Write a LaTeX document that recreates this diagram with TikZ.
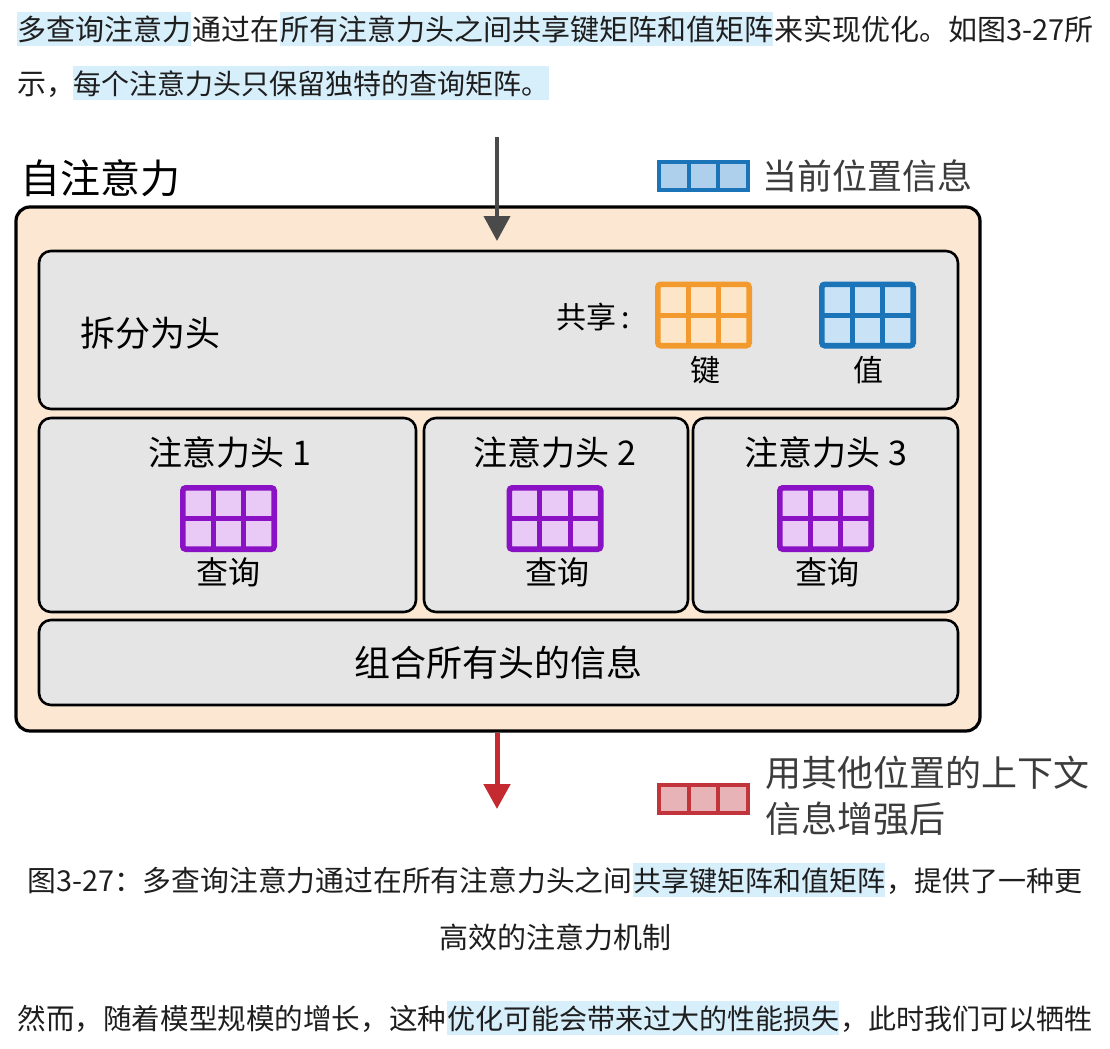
\documentclass[tikz,border=0pt]{standalone}
\usepackage{fontspec}
\setmainfont{Noto Sans CJK SC}
\usetikzlibrary{arrows.meta}
\definecolor{txt}{HTML}{1E1E1E}
\definecolor{hlc}{HTML}{D7EFFB}
\definecolor{peach}{HTML}{FCE8D2}
\definecolor{boxgray}{HTML}{E5E5E5}
\definecolor{arrgray}{HTML}{4A4A4A}
\definecolor{arrred}{HTML}{C52A30}
\definecolor{legtxt}{HTML}{3C3C3C}
\definecolor{orgB}{HTML}{F29A2E}
\definecolor{orgF}{HTML}{FDE6C8}
\definecolor{bluB}{HTML}{1B73B8}
\definecolor{bluF}{HTML}{C9E2F5}
\definecolor{purB}{HTML}{8B12C4}
\definecolor{purF}{HTML}{E9C9F6}
\definecolor{legbF}{HTML}{AED0EC}
\definecolor{redB}{HTML}{C2343B}
\definecolor{redF}{HTML}{E8B3B7}
\newcommand\myfs[1]{\fontsize{#1}{#1}\selectfont}
\newcommand\matsix[4]{%
 \begin{scope}[shift={(#1,#2)}]
 \filldraw[draw=#3, fill=#4, line width=2.8pt, rounded corners=1.5pt] (-45.7,-30.7) rectangle (45.7,30.7);
 \draw[draw=#3, line width=2.5pt] (-15.2,-30.7) -- (-15.2,30.7) (15.2,-30.7) -- (15.2,30.7) (-45.7,0) -- (45.7,0);
 \end{scope}}
\newcommand\barthree[4]{%
 \begin{scope}[shift={(#1,#2)}]
 \filldraw[draw=#3, fill=#4, line width=2pt] (-44.5,-14) rectangle (44.5,14);
 \draw[draw=#3, line width=2pt] (-14.8,-14) -- (-14.8,14) (14.8,-14) -- (14.8,14);
 \end{scope}}
\begin{document}
\begin{tikzpicture}[x=0.5pt,y=-0.5pt,
 seg/.style={anchor=base west, inner sep=0pt, font=\myfs{14.5pt}, text=txt},
 hlseg/.style={seg, fill=hlc, text height=14pt, text depth=2.8pt},
 box/.style={draw=black, line width=1.3pt, rounded corners=6pt, fill=boxgray, inner sep=0pt},
 outer/.style={draw=black, line width=1.6pt, rounded corners=7pt, fill=peach, inner sep=0pt},
 lbl/.style={inner sep=0pt, text=black},
 arrowline/.style={-{Triangle[width=13pt,length=12.5pt]}}]
\fill[white] (0,0) rectangle (1110,1049);
\useasboundingbox (0,0) rectangle (1110,1049);

% body text
\node[hlseg] (l1a) at (17,40) {多查询注意力};
\node[seg] (l1b) at (l1a.base east) {通过在};
\node[hlseg] (l1c) at (280,40) {所有注意力头之间共享键矩阵和值矩阵};
\node[seg] (l1d) at (l1c.base east) {来实现优化。如图3-27所};
\node[seg] (l2a) at (17,94) {示，};
\node[hlseg, font=\myfs{14pt}] (l2b) at (73,94) {每个注意力头只保留独特的查询矩阵。};

% diagram
\node[lbl, font=\myfs{20pt}, anchor=west] (title) at (20,178) {自注意力};
\barthree{703.5}{176}{bluB}{legbF}
\node[lbl, font=\myfs{17.5pt}, text=legtxt, anchor=west] (legcur) at (762,176) {当前位置信息};

\node[outer, minimum width=482pt, minimum height=262pt] (outer) at (498,469) {};
\node[box, minimum width=459.5pt, minimum height=79pt] (split) at (498.5,330) {};
\node[lbl, font=\myfs{17.5pt}, anchor=west] (splitlbl) at (80,333) {拆分为头};
\node[lbl, font=\myfs{15pt}, anchor=west] (share) at (556,317) {共享\,:};
\matsix{703.5}{315}{orgB}{orgF}
\matsix{867.5}{315}{bluB}{bluF}
\node[lbl, font=\myfs{15pt}] (key) at (705,370) {键};
\node[lbl, font=\myfs{15pt}] (val) at (868,370) {值};

\node[box, minimum width=188.5pt, minimum height=97pt] (h1) at (227.5,515) {};
\node[box, minimum width=132pt, minimum height=97pt] (h2) at (556,515) {};
\node[box, minimum width=132.5pt, minimum height=97pt] (h3) at (825.5,515) {};
\node[lbl, font=\myfs{17pt}] (h1t) at (230,452) {注意力头 1};
\node[lbl, font=\myfs{17pt}] (h2t) at (555,452) {注意力头 2};
\node[lbl, font=\myfs{17pt}] (h3t) at (826,452) {注意力头 3};
\matsix{228.5}{518.5}{purB}{purF}
\matsix{555}{518.5}{purB}{purF}
\matsix{825.5}{518.5}{purB}{purF}
\node[lbl, font=\myfs{16pt}] (q1) at (228,572) {查询};
\node[lbl, font=\myfs{16pt}] (q2) at (557,572) {查询};
\node[lbl, font=\myfs{16pt}] (q3) at (827,572) {查询};

\node[box, minimum width=459.5pt, minimum height=42.5pt, font=\myfs{18pt}] (comb) at (498.5,662.5) {组合所有头的信息};

\coordinate (inTop) at (497,137);
\coordinate (inTip) at (497,241);
\draw[arrowline, arrgray, line width=2pt] (inTop) -- (inTip);
\coordinate (outTip) at (497,809);
\draw[arrowline, arrred, line width=2.5pt] (outer.south -| outTip) -- (outTip);

\barthree{703.5}{798.5}{redB}{redF}
\node[lbl, font=\fontsize{18pt}{23pt}\selectfont, text=legtxt, anchor=west, align=left] (legout) at (765,796) {用其他位置的上下文\\信息增强后};

% caption
\node[seg, font=\myfs{14.4pt}] (c1a) at (27,891) {图3-27：多查询注意力通过在所有注意力头之间};
\node[hlseg, font=\myfs{14pt}] (c1b) at (c1a.base east) {共享键矩阵和值矩阵};
\node[seg, font=\myfs{14pt}] (c1c) at (c1b.base east) {，提供了一种更};
\node[seg, anchor=base] (c2) at (555,948) {高效的注意力机制};

% bottom line
\node[seg, font=\myfs{14.3pt}] (b1a) at (17,1029) {然而，随着模型规模的增长，这种};
\node[hlseg, font=\myfs{14pt}] (b1b) at (447,1029) {优化可能会带来过大的性能损失};
\node[seg, font=\myfs{14pt}] (b1c) at (b1b.base east) {，此时我们可以牺牲};
\end{tikzpicture}
\end{document}
